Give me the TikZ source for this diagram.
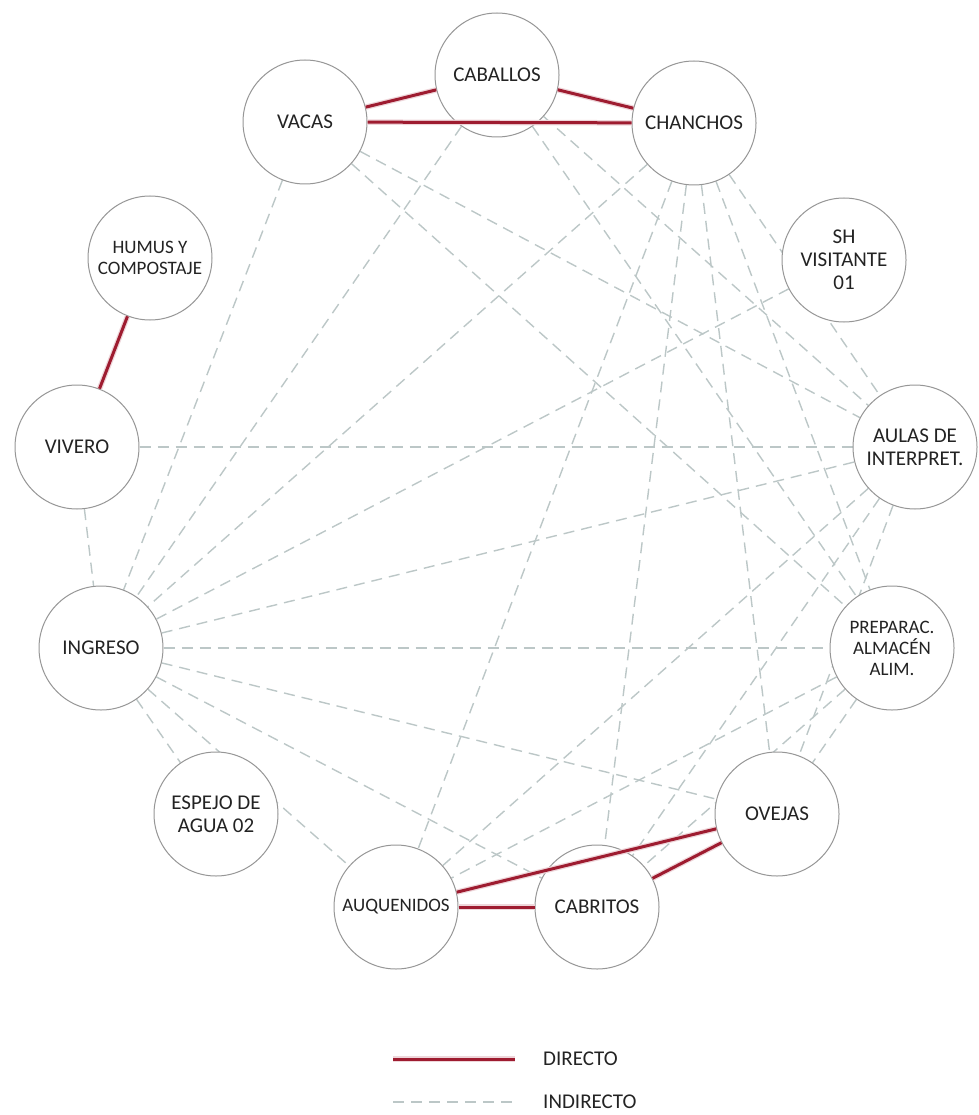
\documentclass[tikz,border=0pt]{standalone}
\usepackage{fontspec}
\setmainfont{Carlito}
\usetikzlibrary{backgrounds}
\definecolor{rojo}{RGB}{158,28,48}
\definecolor{gris}{RGB}{188,199,199}
\definecolor{borde}{RGB}{150,150,150}
\definecolor{texto}{RGB}{35,35,35}

\begin{document}
\begin{tikzpicture}[x=1pt,y=-1pt,semithick]
  \tikzstyle{zona}=[circle,draw=borde,line width=1pt,fill=white,minimum size=124pt,
                    inner sep=0pt,align=center,text=texto,font=\fontsize{21}{23}\selectfont]
  \tikzstyle{chica}=[font=\fontsize{19}{21}\selectfont]
  \tikzstyle{directo}=[draw=rojo,line width=3pt,preaction={draw=rojo!18,line width=5.5pt}]
  \tikzstyle{indirecto}=[gris,line width=1.4pt,dash pattern=on 11pt off 7pt]
  \tikzstyle{leyenda}=[anchor=west,inner sep=0pt,text=texto,font=\fontsize{21}{23}\selectfont]
\useasboundingbox (0,0) rectangle (978,1115);

\node [zona] (caballos) at (497,75) {CABALLOS};
\node [zona] (vacas) at (305,122) {VACAS};
\node [zona] (chanchos) at (694,123) {CHANCHOS};
\node [zona] (sh) at (844,260) {SH\\VISITANTE\\01};
\node [zona,chica] (humus) at (150,258) {HUMUS Y\\COMPOSTAJE};
\node [zona] (vivero) at (77,447) {VIVERO};
\node [zona] (aulas) at (915,447) {AULAS DE\\INTERPRET.};
\node [zona] (ingreso) at (101,648) {INGRESO};
\node [zona,chica] (preparac) at (892,648) {PREPARAC.\\ALMACÉN\\ALIM.};
\node [zona] (espejo) at (216,814) {ESPEJO DE\\AGUA 02};
\node [zona] (ovejas) at (777,814) {OVEJAS};
\node [zona,chica] (auquenidos) at (396,907) {AUQUENIDOS};
\node [zona] (cabritos) at (597,907) {CABRITOS};

% relaciones indirectas (debajo de los circulos)
\begin{pgfonlayer}{background}
\path[indirecto] (vacas) edge (ingreso) edge (aulas) edge (preparac)
      (caballos) edge (ingreso) edge (aulas) edge (preparac)
      (chanchos) edge (ingreso) edge (auquenidos) edge (cabritos)
                 edge (ovejas) edge (preparac) edge (aulas)
      (sh) edge (ingreso)
      (vivero) edge (aulas) edge (ingreso)
      (ingreso) edge (aulas) edge (preparac) edge (ovejas)
                edge (cabritos) edge (auquenidos) edge (espejo)
      (aulas) edge (auquenidos) edge (cabritos) edge (ovejas)
      (preparac) edge (auquenidos) edge (cabritos) edge (ovejas);
\end{pgfonlayer}

% relaciones directas
\draw[directo] (vacas) -- (caballos);
\draw[directo] (caballos) -- (chanchos);
\draw[directo] (vacas) -- (chanchos);
\draw[directo] (humus) -- (vivero);
\draw[directo] (auquenidos) -- (cabritos);
\draw[directo] (auquenidos) -- (ovejas);
\draw[directo] (cabritos) -- (ovejas);

% leyenda
\coordinate (d1) at (393,1059);
\coordinate (d2) at (515,1059);
\coordinate (i1) at (393,1102);
\coordinate (i2) at (515,1102);
\draw[directo] (d1) -- (d2);
\draw[indirecto] (i1) -- (i2);
\node [leyenda] (ldirecto) at (543,1059) {DIRECTO};
\node [leyenda] (lindirecto) at (543,1102) {INDIRECTO};

\end{tikzpicture}
\end{document}
